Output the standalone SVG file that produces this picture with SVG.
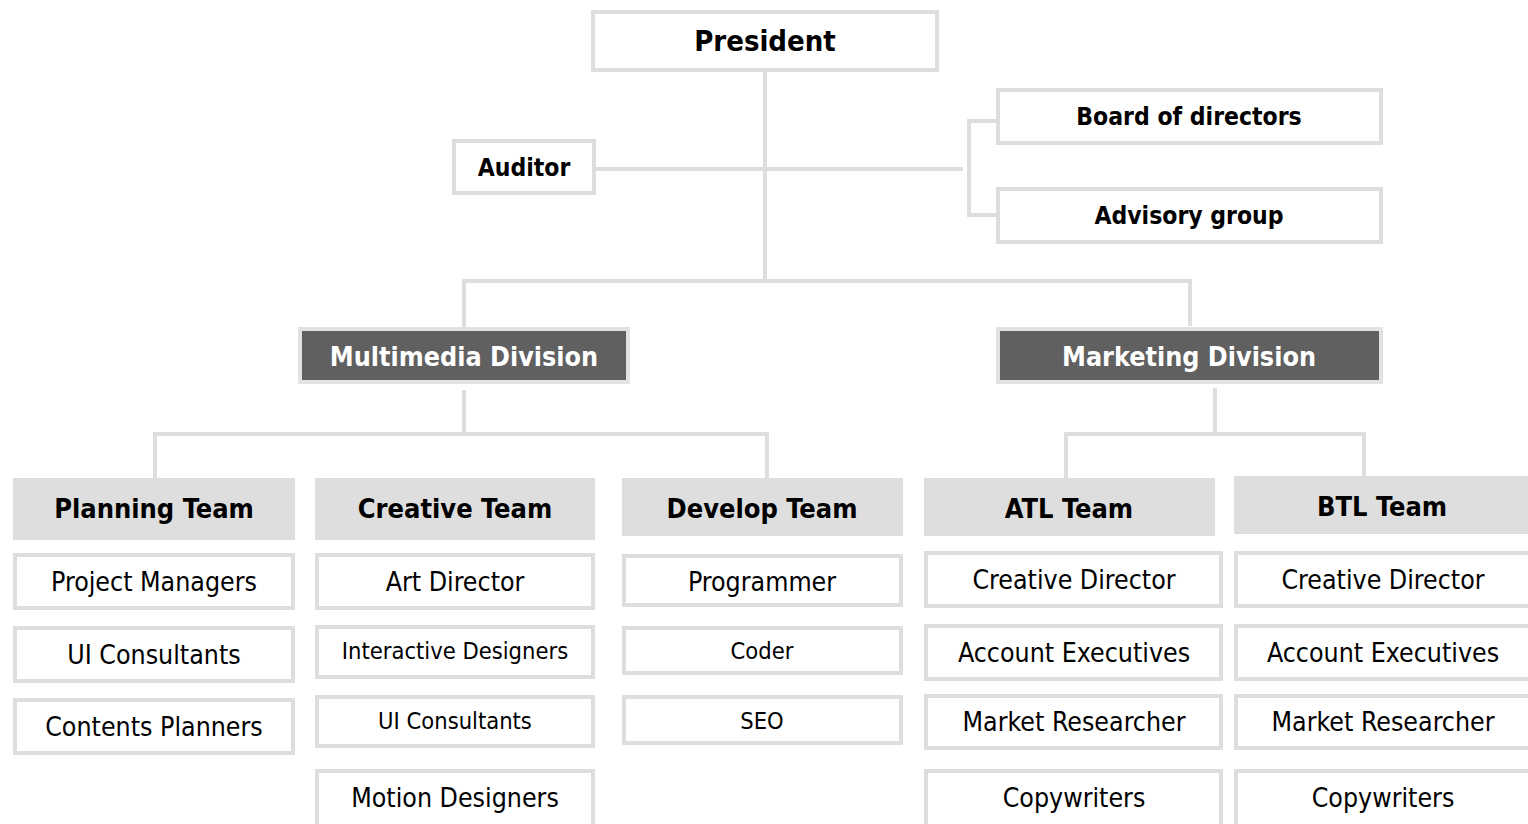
<svg xmlns="http://www.w3.org/2000/svg" width="1528" height="824" viewBox="0 0 1528 824">
<style>
text{font-family:"DejaVu Sans Condensed","DejaVu Sans",sans-serif;text-anchor:middle;dominant-baseline:central;fill:#000}
.box{fill:#fff;stroke:#dedede;stroke-width:4}
.div{fill:#606060;stroke:#e2e2e2;stroke-width:4}
.team{fill:#dedede}
.t1{font-size:29px;font-weight:bold}
.tb{font-size:24.5px;font-weight:bold}
.td{font-size:26.7px;font-weight:bold;fill:#fff}
.th{font-size:27px;font-weight:bold}
.ts{font-size:26.5px}
.tx{font-size:23.5px}
.conn path{fill:none;stroke:#dedede;stroke-width:4}
</style>
<rect width="1528" height="824" fill="#fff"/>
<g class="conn" id="connectors">
<path d="M765 72V281"/>
<path d="M596 169H963"/>
<path d="M996 121H969V215H996"/>
<path d="M464 328V281H1190V326"/>
<path d="M464 390V434"/>
<path d="M155 478V434H767V478"/>
<path d="M1215 388V434"/>
<path d="M1066 478V434H1364V478"/>
</g>
<g id="president"><rect class="box" x="593" y="12" width="344" height="58"/><text class="t1" x="765" y="41">President</text></g>
<g id="auditor"><rect class="box" x="454" y="141" width="140" height="52"/><text class="tb" x="524" y="167">Auditor</text></g>
<g id="board"><rect class="box" x="998" y="90" width="383" height="53"/><text class="tb" x="1189" y="116">Board of directors</text></g>
<g id="advisory"><rect class="box" x="998" y="189" width="383" height="53"/><text class="tb" x="1189" y="215">Advisory group</text></g>
<g id="multimedia"><rect class="div" x="300" y="329" width="328" height="53"/><text class="td" x="464" y="356">Multimedia Division</text></g>
<g id="marketing"><rect class="div" x="998" y="329" width="383" height="53"/><text class="td" x="1189" y="356">Marketing Division</text></g>
<g id="planning"><rect class="team" x="13" y="478" width="282" height="62"/><text class="th" x="154" y="508">Planning Team</text></g>
<g id="creative"><rect class="team" x="315" y="478" width="280" height="62"/><text class="th" x="455" y="508">Creative Team</text></g>
<g id="develop"><rect class="team" x="622" y="478" width="281" height="58"/><text class="th" x="762" y="508">Develop Team</text></g>
<g id="atl"><rect class="team" x="924" y="478" width="291" height="58"/><text class="th" x="1069" y="508">ATL Team</text></g>
<g id="btl"><rect class="team" x="1234" y="476" width="300" height="58"/><text class="th" x="1382" y="506">BTL Team</text></g>
<g id="p-pm"><rect class="box" x="15" y="555" width="278" height="53"/><text class="ts" x="154" y="581">Project Managers</text></g>
<g id="p-ui"><rect class="box" x="15" y="628" width="278" height="53"/><text class="ts" x="154" y="654">UI Consultants</text></g>
<g id="p-cp"><rect class="box" x="15" y="700" width="278" height="53"/><text class="ts" x="154" y="726">Contents Planners</text></g>
<g id="c-ad"><rect class="box" x="317" y="555" width="276" height="53"/><text class="ts" x="455" y="581">Art Director</text></g>
<g id="c-id"><rect class="box" x="317" y="627" width="276" height="50"/><text class="tx" x="455" y="651">Interactive Designers</text></g>
<g id="c-ui"><rect class="box" x="317" y="697" width="276" height="49"/><text class="tx" x="455" y="721">UI Consultants</text></g>
<g id="c-md"><rect class="box" x="317" y="771" width="276" height="60"/><text class="ts" x="455" y="797">Motion Designers</text></g>
<g id="d-pr"><rect class="box" x="624" y="556" width="277" height="49"/><text class="ts" x="762" y="581">Programmer</text></g>
<g id="d-co"><rect class="box" x="624" y="628" width="277" height="45"/><text class="tx" x="762" y="651">Coder</text></g>
<g id="d-seo"><rect class="box" x="624" y="697" width="277" height="46"/><text class="tx" x="762" y="721">SEO</text></g>
<g id="a-cd"><rect class="box" x="926" y="553" width="295" height="53"/><text class="ts" x="1074" y="579">Creative Director</text></g>
<g id="a-ae"><rect class="box" x="926" y="626" width="295" height="53"/><text class="ts" x="1074" y="652">Account Executives</text></g>
<g id="a-mr"><rect class="box" x="926" y="696" width="295" height="52"/><text class="ts" x="1074" y="721">Market Researcher</text></g>
<g id="a-cw"><rect class="box" x="926" y="771" width="295" height="60"/><text class="ts" x="1074" y="797">Copywriters</text></g>
<g id="b-cd"><rect class="box" x="1236" y="553" width="300" height="53"/><text class="ts" x="1383" y="579">Creative Director</text></g>
<g id="b-ae"><rect class="box" x="1236" y="626" width="300" height="53"/><text class="ts" x="1383" y="652">Account Executives</text></g>
<g id="b-mr"><rect class="box" x="1236" y="696" width="300" height="52"/><text class="ts" x="1383" y="721">Market Researcher</text></g>
<g id="b-cw"><rect class="box" x="1236" y="771" width="300" height="60"/><text class="ts" x="1383" y="797">Copywriters</text></g>
</svg>
